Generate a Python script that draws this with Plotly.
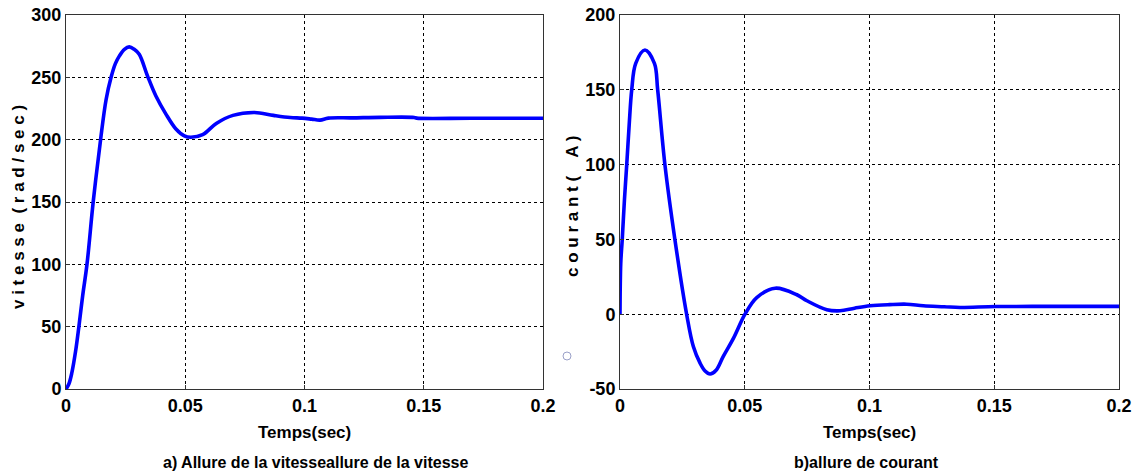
import plotly.graph_objects as go

# Speed curve (left)
t_speed = [0, 0.0012, 0.0024, 0.0040, 0.0054, 0.0070, 0.0088, 0.0114, 0.0145, 0.0168, 0.0189,
           0.0207, 0.0224, 0.0245, 0.0265, 0.0286, 0.0307, 0.0342, 0.0377, 0.0419,
           0.0461, 0.0496, 0.0524, 0.0573, 0.0630, 0.0700, 0.0790, 0.0870, 0.0940, 0.0990,
           0.1030, 0.1065, 0.1100, 0.1200, 0.1317, 0.1460, 0.1470, 0.1700, 0.2000]
v_speed = [0, 4, 12.5, 30, 50, 75, 100, 150, 200, 232, 250,
           261, 267.2, 272.5, 274.4, 272.5, 268.5, 251, 235, 220.5,
           208.5, 203, 201.9, 204, 213, 219.5, 221.8, 219.5, 217.8, 217.3,
           216.5, 215.7, 217.3, 217.5, 217.9, 217.8, 217.3, 217.2, 217.2]

# Current curve (right)
t_cur = [0, 0.0003, 0.0009, 0.0018, 0.0027, 0.0037, 0.0047, 0.0063, 0.0100,
         0.0138, 0.0151, 0.0180, 0.0220, 0.0267, 0.0294, 0.0321, 0.0341, 0.0361,
         0.0385, 0.0414, 0.0455, 0.0501, 0.0548, 0.0622, 0.0709, 0.0749, 0.0829, 0.0882,
         0.0940, 0.1002, 0.1080, 0.1149, 0.1216, 0.1300, 0.1363, 0.1506, 0.1750, 0.2000]
i_cur = [0, 34, 50, 77, 100, 127, 150, 167.7, 176.6,
         167.7, 150, 100, 50, 0, -21.6, -32.7, -38, -40,
         -37.5, -28.2, -16, 0, 11.1, 17.4, 13, 9, 3, 2.3,
         4, 5.6, 6.4, 6.7, 5.6, 5.0, 4.5, 5.1, 5.2, 5.2]

x_ticks = [0, 0.05, 0.1, 0.15, 0.2]
x_ticktext = ["0", "0.05", "0.1", "0.15", "0.2"]
y1_ticks = [0, 50, 100, 150, 200, 250, 300]
y1_ticktext = ["0", "50", "100", "150", "200", "250", "300"]
y2_ticks = [-50, 0, 50, 100, 150, 200]
y2_ticktext = ["-50", "0", "50", "100", "150", "200"]

x_title = "Temps(sec)"
y1_title = "v i t e s s e  ( r a d / s e c )"
y2_title = "c o u r a n t (    A )"
cap_a = "a) Allure de la vitesseallure de la vitesse"
cap_b = "b)allure de courant"

FONT = "Liberation Sans, Arial, sans-serif"
BLUE = "rgb(0,0,255)"

fig = go.Figure()
fig.add_trace(go.Scatter(x=t_speed, y=v_speed, mode="lines",
                         line=dict(color=BLUE, width=3.6, shape="spline", smoothing=1.0),
                         xaxis="x", yaxis="y", showlegend=False, hoverinfo="skip"))
fig.add_trace(go.Scatter(x=t_cur, y=i_cur, mode="lines",
                         line=dict(color=BLUE, width=3.6, shape="spline", smoothing=1.0),
                         xaxis="x2", yaxis="y2", showlegend=False, hoverinfo="skip"))

W, H = 1138, 476
ml, mr, mt, mb = 66, 19, 15, 87
pw = W - ml - mr
ph = H - mt - mb
d1 = (0, (543 - ml) / pw)
d2 = ((620 - ml) / pw, 1.0)

tickfont = dict(family=FONT, size=18, color="black", weight="bold")
common_axis = dict(showline=True, linecolor="#333333", linewidth=1, mirror=True,
                   ticks="inside", ticklen=4, tickcolor="#333333",
                   showgrid=True, gridcolor="black", gridwidth=1, griddash="3px,3px",
                   zeroline=False, tickfont=tickfont, fixedrange=True, automargin=False)

fig.update_layout(
    template="none",
    width=W, height=H,
    margin=dict(l=ml, r=mr, t=mt, b=mb, pad=0, autoexpand=False),
    paper_bgcolor="white", plot_bgcolor="white",
    xaxis=dict(domain=d1, range=[0, 0.2], tickvals=x_ticks, ticktext=x_ticktext,
               anchor="y", **common_axis),
    yaxis=dict(domain=[0, 1], range=[0, 300], tickvals=y1_ticks, ticktext=y1_ticktext,
               anchor="x", **common_axis),
    xaxis2=dict(domain=d2, range=[0, 0.2], tickvals=x_ticks, ticktext=x_ticktext,
                anchor="y2", **common_axis),
    yaxis2=dict(domain=[0, 1], range=[-50, 200], tickvals=y2_ticks, ticktext=y2_ticktext,
                anchor="x2", **common_axis),
)

tfont = dict(family=FONT, size=17, color="black", weight="bold")
cfont = dict(family=FONT, size=16, color="black", weight="bold")
ann = []
ann.append(dict(text=x_title, xref="paper", yref="paper", x=(d1[0] + d1[1]) / 2, y=0,
                yshift=-43, xanchor="center", yanchor="middle", showarrow=False, font=tfont))
ann.append(dict(text=x_title, xref="paper", yref="paper", x=(d2[0] + d2[1]) / 2, y=0,
                yshift=-43, xanchor="center", yanchor="middle", showarrow=False, font=tfont))
ann.append(dict(text=cap_a, xref="paper", yref="paper", x=(d1[0] + d1[1]) / 2 + 0.01, y=0,
                yshift=-73, xanchor="center", yanchor="middle", showarrow=False, font=cfont))
ann.append(dict(text=cap_b, xref="paper", yref="paper", x=(d2[0] + d2[1]) / 2 - 0.003, y=0,
                yshift=-73, xanchor="center", yanchor="middle", showarrow=False, font=cfont))
ann.append(dict(text=y1_title, xref="paper", yref="paper", x=d1[0], y=0.5, yshift=-5,
                xshift=-48, xanchor="center", yanchor="middle", textangle=-90,
                showarrow=False, font=tfont))
ann.append(dict(text=y2_title, xref="paper", yref="paper", x=d2[0], y=0.5, yshift=-5,
                xshift=-48, xanchor="center", yanchor="middle", textangle=-90,
                showarrow=False, font=tfont))
fig.update_layout(annotations=ann)

fig.add_shape(type="circle", xref="paper", yref="paper", xsizemode="pixel", ysizemode="pixel",
              xanchor=(567 - ml) / pw, yanchor=(389 - 356) / ph,
              x0=-4, x1=4, y0=-4, y1=4, line=dict(color="#9aa0c8", width=1))

fig.write_html("out.html", config={"displayModeBar": False})
